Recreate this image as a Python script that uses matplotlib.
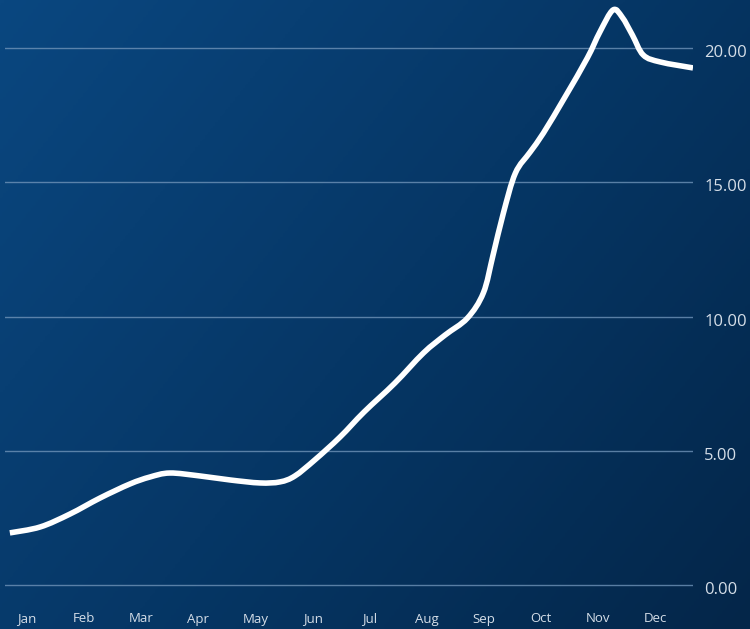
import numpy as np
import matplotlib.pyplot as plt
import matplotlib.transforms as mtransforms
from matplotlib.colors import LinearSegmentedColormap
from matplotlib.path import Path
from matplotlib.patches import PathPatch

# month index (0 = Jan) and value
months = ["Jan", "Feb", "Mar", "Apr", "May", "Jun", "Jul", "Aug", "Sep", "Oct", "Nov", "Dec"]
x_vals = [-0.30, 0.23, 0.75, 1.28, 1.80, 2.15, 2.50, 3.03, 3.56, 4.08, 4.43, 4.69,
          5.04, 5.48, 5.90, 6.44, 6.94, 7.32, 7.71, 7.99, 8.16, 8.34, 8.55, 8.81,
          9.04, 9.42, 9.81, 10.03, 10.26, 10.42, 10.60, 10.79, 11.09, 11.66]
y_vals = [1.94, 2.16, 2.64, 3.24, 3.76, 4.02, 4.17, 4.06, 3.91, 3.80, 3.84, 4.06,
          4.66, 5.51, 6.44, 7.52, 8.64, 9.31, 9.94, 10.88, 12.29, 13.85, 15.34, 16.13,
          16.83, 18.18, 19.63, 20.60, 21.42, 21.15, 20.48, 19.74, 19.48, 19.26]
y_ticks = [0, 5, 10, 15, 20]


def smooth_path(xs, ys):
    # catmull-rom through the points, drawn as bezier curves
    p = np.column_stack([xs, ys])
    p = np.vstack([p[0], p, p[-1]])
    verts = [p[1]]
    codes = [Path.MOVETO]
    for i in range(1, len(p) - 2):
        c1 = p[i] + (p[i + 1] - p[i - 1]) / 6
        c2 = p[i + 1] - (p[i + 2] - p[i]) / 6
        verts += [c1, c2, p[i + 1]]
        codes += [Path.CURVE4] * 3
    return Path(verts, codes)


plt.rcParams["font.family"] = ["Open Sans", "DejaVu Sans"]

fig = plt.figure(figsize=(7.5, 6.29), dpi=100)

# diagonal background gradient
bg = fig.add_axes([0, 0, 1, 1])
gx, gy = np.meshgrid(np.linspace(0, 1, 300), np.linspace(0, 1, 300))
grad = (gx * 0.6 + gy * 0.4)
cmap = LinearSegmentedColormap.from_list("bg", ["#0a4780", "#063766", "#042649"])
bg.imshow(grad, cmap=cmap, aspect="auto", extent=[0, 1, 0, 1], origin="upper")
bg.axis("off")

ax = fig.add_axes([5 / 750, 29 / 629, 688 / 750, 600 / 629])
ax.patch.set_alpha(0)
ax.set_xlim(-0.385, 11.66)
ax.set_ylim(-0.56, 21.79)

for v in y_ticks:
    ax.axhline(v, color="#6f93b8", lw=1, alpha=0.8, zorder=1)

ax.add_patch(PathPatch(smooth_path(x_vals, y_vals), facecolor="none", edgecolor="white",
                       lw=4, joinstyle="round", capstyle="butt", zorder=3))

ax.yaxis.tick_right()
ax.set_yticks(y_ticks)
ax.set_yticklabels([f"{v:.2f}" for v in y_ticks])
ax.set_xticks(range(len(months)))
ax.set_xticklabels(months)
ax.tick_params(axis="y", length=0, pad=8, labelsize=12, labelcolor="#d5dee8")
ax.tick_params(axis="x", length=0, pad=9, labelsize=9.5, labelcolor="#d5dee8")
shift = mtransforms.ScaledTranslation(0, -3 / 100, fig.dpi_scale_trans)
for lab in ax.get_yticklabels():
    lab.set_verticalalignment("center_baseline")
    lab.set_transform(lab.get_transform() + shift)
for s in ax.spines.values():
    s.set_visible(False)

fig.savefig("out.png", dpi=100)
